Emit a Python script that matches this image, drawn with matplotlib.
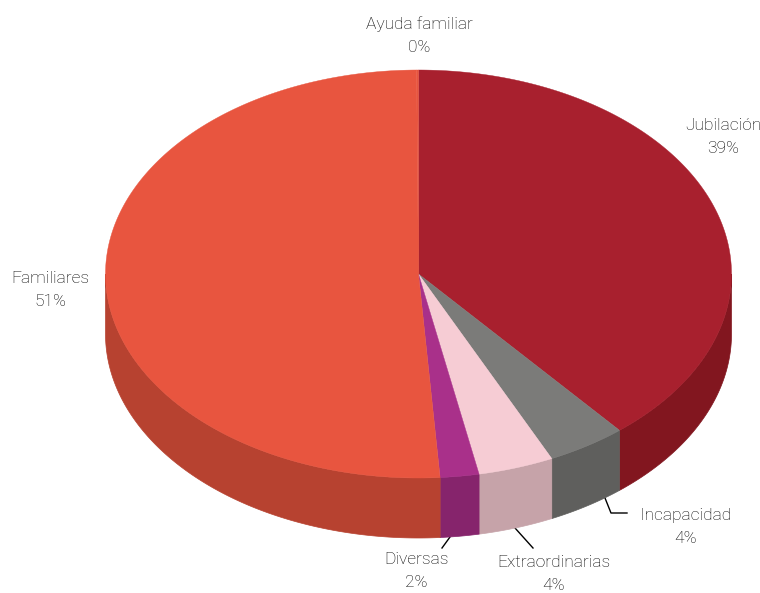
import numpy as np
import matplotlib
matplotlib.use('Agg')
import matplotlib.pyplot as plt

labels = ['Jubilación', 'Incapacidad', 'Extraordinarias', 'Diversas', 'Familiares', 'Ayuda familiar']
shown = ['39%', '4%', '4%', '2%', '51%', '0%']
values = [38.9, 4.1, 3.9, 2.0, 51.0, 0.1]
top_colors = ['#a8202e', '#7b7b79', '#f6ccd4', '#a9308a', '#e8553f', '#e8553f']
side_colors = ['#82161f', '#5f5f5d', '#c6a3a9', '#86246c', '#b74230', '#b74230']

# label centre positions in pixels
label_pos = [(723, 137), (686, 527), (554, 574), (416, 571), (50, 290), (419, 36)]

cx, cy = 418.5, 274
rx, ry = 313, 204
depth = 60


def ell(t):
    # t is clockwise from the top, in radians
    return cx + rx * np.sin(t), cy - ry * np.cos(t)


def main():
    fig = plt.figure(figsize=(7.6, 5.93), dpi=100)
    ax = fig.add_axes([0, 0, 1, 1])
    ax.set_xlim(0, 760)
    ax.set_ylim(593, 0)
    ax.axis('off')

    edges = np.cumsum([0] + values) / sum(values) * 2 * np.pi

    # side wall, only the part facing the viewer
    for i in range(len(values)):
        a = max(edges[i], np.pi / 2)
        b = min(edges[i + 1], 3 * np.pi / 2)
        if b <= a:
            continue
        t = np.linspace(a, b, 200)
        x, y = ell(t)
        ax.fill(np.r_[x, x[::-1]], np.r_[y, y[::-1] + depth],
                color=side_colors[i], lw=0.5, zorder=2)

    # top face
    for i in range(len(values)):
        t = np.linspace(edges[i], edges[i + 1], 300)
        x, y = ell(t)
        ax.fill(np.r_[cx, x], np.r_[cy, y], color=top_colors[i], lw=0.3, zorder=3)

    # leader lines for the three small slices
    leaders = [[(605, 498), (611, 513), (627, 513)],
               [(515, 528), (533, 548)],
               [(450, 537), (442, 548)]]
    for pts in leaders:
        xs, ys = zip(*pts)
        ax.plot(xs, ys, color='black', lw=1, zorder=1)

    for name, pct, (x, y) in zip(labels, shown, label_pos):
        ax.text(x, y, name + '\n' + pct, ha='center', va='center', fontsize=12.5,
                family='Roboto', weight='light', color='#000000', linespacing=1.66, zorder=5)

    fig.savefig('out.png', dpi=100)


if __name__ == "__main__":
    main()
